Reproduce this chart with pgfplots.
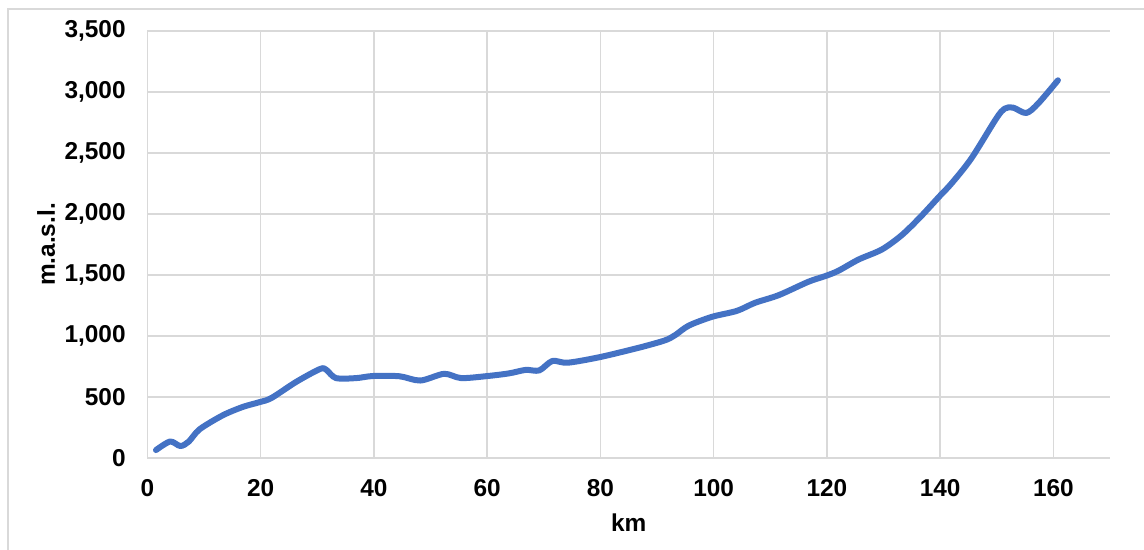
\documentclass[border=0pt]{standalone}
\usepackage{pgfplots}
\pgfplotsset{compat=1.18}
\usepackage{fontspec}
\setmainfont{Liberation Sans}
\definecolor{profile}{HTML}{4472C4}
\definecolor{gridgray}{HTML}{D9D9D9}
\definecolor{framegray}{HTML}{D9D9D9}
\begin{document}
\begin{tikzpicture}
\path[use as bounding box] (0,0) rectangle (572pt,275pt);
\draw[framegray, line width=0.75pt] (4pt,-2pt) -- (4pt,270.5pt) -- (580pt,270.5pt);
\begin{axis}[
  at={(73.75pt,46pt)}, anchor=south west,
  scale only axis,
  width=481.25pt, height=213.5pt,
  xmin=0, xmax=170, ymin=0, ymax=3500,
  xtick={0,20,...,160},
  ytick={0,500,...,3500},
  grid=major,
  major grid style={gridgray, line width=0.75pt},
  axis lines=left,
  axis line style={gridgray, line width=0.75pt, -},
  major tick length=0pt,
  tick style={draw=none},
  /pgf/number format/.cd, 1000 sep={,}, assume math mode=true, /pgfplots/.cd,
  ticklabel style={font=\fontsize{12.2}{14}\selectfont\bfseries, inner sep=0pt},
  yticklabel style={anchor=east, xshift=-10.75pt},
  xticklabel style={anchor=north, yshift=-10.75pt},
  xlabel={km},
  ylabel={m.a.s.l.},
  label style={font=\fontsize{12.2}{14}\selectfont\bfseries, inner sep=0pt},
  xlabel style={at={(axis description cs:0.5,0)}, anchor=north, yshift=-27.5pt},
  ylabel style={at={(axis description cs:0,0.5)}, anchor=south, yshift=46pt},
  clip=false,
]
% elevation profile along the route
\addplot[profile, line width=3pt, line cap=round, line join=round, smooth, tension=0.5] coordinates {
(1.5,65) (4,135) (5.8,98) (7.3,135) (9.2,235) (13.3,350) (16.8,418) (19.8,458)
(21.9,492) (26.3,625) (30.5,730) (31.6,722) (33.3,655) (36.9,655) (39.8,672)
(44.5,670) (48.2,635) (52.4,690) (55.4,655) (60.1,672) (63.9,694) (66.8,722)
(69.2,718) (71.5,795) (74.2,781) (79.7,825) (85.6,890) (88.5,925) (91.5,966)
(93.2,1007) (95.6,1085) (99.7,1157) (104.1,1206) (107.3,1272) (111.5,1335)
(116.7,1444) (119.7,1491) (122.0,1534) (125.6,1627) (129.7,1709) (133.2,1826)
(136.5,1975) (139.9,2146) (142.0,2250) (145.5,2455) (149.9,2782) (151.4,2864)
(152.9,2872) (155.2,2828) (157.3,2905) (160.8,3096)
};
\end{axis}
\end{tikzpicture}
\end{document}
